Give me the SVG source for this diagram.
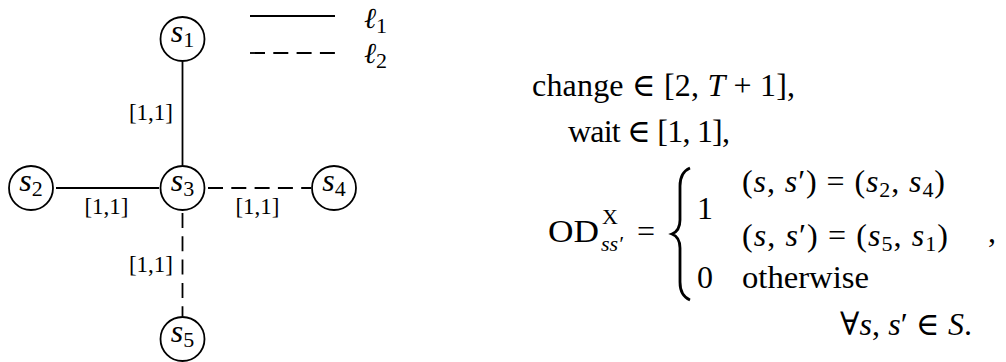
<svg xmlns="http://www.w3.org/2000/svg" width="1006" height="362" viewBox="0 0 1006 362" font-family="'Liberation Serif','DejaVu Serif',serif">
<style>
text{font-family:"Liberation Serif","DejaVu Serif",serif;fill:#000}
.m{font-size:32px}
.lg{font-size:29px}
.l{font-size:23px}
.s{font-size:22px}
.i{font-style:italic}
.node{fill:#fff;stroke:#000;stroke-width:1.8}
.e{stroke:#000;stroke-width:1.8;fill:none}
.d{stroke-dasharray:15 8.3}
</style>
<rect width="1006" height="362" fill="#fff"/>
<g id="connectors">
<line class="e" x1="182.5" y1="62" x2="182.5" y2="165"/>
<line class="e" x1="56" y1="188" x2="159" y2="188"/>
<line class="e d" x1="208" y1="188" x2="311" y2="188"/>
<line class="e d" x1="182.5" y1="213" x2="182.5" y2="316"/>
<text class="l" x="173" y="120" text-anchor="end">[1,1]</text>
<text class="l" x="106.5" y="214" text-anchor="middle">[1,1]</text>
<text class="l" x="257.5" y="214" text-anchor="middle">[1,1]</text>
<text class="l" x="173" y="272" text-anchor="end">[1,1]</text>
</g>
<g id="s1"><circle class="node" cx="182.5" cy="39" r="22"/><text class="m" x="182.5" y="42" text-anchor="middle"><tspan class="i">s</tspan><tspan class="s" dy="5">1</tspan></text></g>
<g id="s2"><circle class="node" cx="31" cy="188" r="22"/><text class="m" x="31" y="191" text-anchor="middle"><tspan class="i">s</tspan><tspan class="s" dy="5">2</tspan></text></g>
<g id="s3"><circle class="node" cx="182.5" cy="188" r="22"/><text class="m" x="182.5" y="191" text-anchor="middle"><tspan class="i">s</tspan><tspan class="s" dy="5">3</tspan></text></g>
<g id="s4"><circle class="node" cx="334" cy="188" r="22"/><text class="m" x="334" y="191" text-anchor="middle"><tspan class="i">s</tspan><tspan class="s" dy="5">4</tspan></text></g>
<g id="s5"><circle class="node" cx="182.5" cy="339" r="22"/><text class="m" x="182.5" y="342" text-anchor="middle"><tspan class="i">s</tspan><tspan class="s" dy="5">5</tspan></text></g>
<g id="legend">
<line class="e" x1="250" y1="16" x2="335" y2="16"/>
<line class="e d" x1="250" y1="53" x2="335" y2="53"/>
<text class="lg" x="364" y="28"><tspan class="i">ℓ</tspan><tspan class="s" dy="5">1</tspan></text>
<text class="lg" x="364" y="63"><tspan class="i">ℓ</tspan><tspan class="s" dy="5">2</tspan></text>
</g>
<g id="equations">
<text class="m" x="532" y="96" textLength="263" lengthAdjust="spacing">change ∈ [2, <tspan class="i">T</tspan> + 1],</text>
<text class="m" x="568" y="142" textLength="162" lengthAdjust="spacing">wait ∈ [1, 1],</text>
<text class="m" x="548" y="242" textLength="51" lengthAdjust="spacingAndGlyphs">OD</text>
<text class="s" x="602" y="224">X</text>
<text class="s i" x="601" y="251">ss′</text>
<text class="m" x="637" y="242">=</text>
<path d="M690,168 C683,171 680,177 680,186 L680,220 C680,228 677,232 672,234 C677,236 680,240 680,248 L680,282 C680,291 683,297 690,300" fill="none" stroke="#000" stroke-width="2.8"/>
<text class="m" x="697" y="219">1</text>
<text class="m" x="697" y="288">0</text>
<text class="m" x="742" y="192" textLength="203" lengthAdjust="spacing">(<tspan class="i">s</tspan>, <tspan class="i">s</tspan>′) = (<tspan class="i">s</tspan><tspan class="s" dy="5">2</tspan><tspan dy="-5">, </tspan><tspan class="i">s</tspan><tspan class="s" dy="5">4</tspan><tspan dy="-5">)</tspan></text>
<text class="m" x="742" y="246" textLength="206" lengthAdjust="spacing">(<tspan class="i">s</tspan>, <tspan class="i">s</tspan>′) = (<tspan class="i">s</tspan><tspan class="s" dy="5">5</tspan><tspan dy="-5">, </tspan><tspan class="i">s</tspan><tspan class="s" dy="5">1</tspan><tspan dy="-5">)</tspan></text>
<text class="m" x="742" y="288" textLength="127" lengthAdjust="spacingAndGlyphs">otherwise</text>
<text class="m" x="988" y="242">,</text>
<text class="m" x="840" y="335" textLength="132" lengthAdjust="spacing">∀<tspan class="i">s</tspan>, <tspan class="i">s</tspan>′ ∈ <tspan class="i">S</tspan>.</text>
</g>
</svg>
